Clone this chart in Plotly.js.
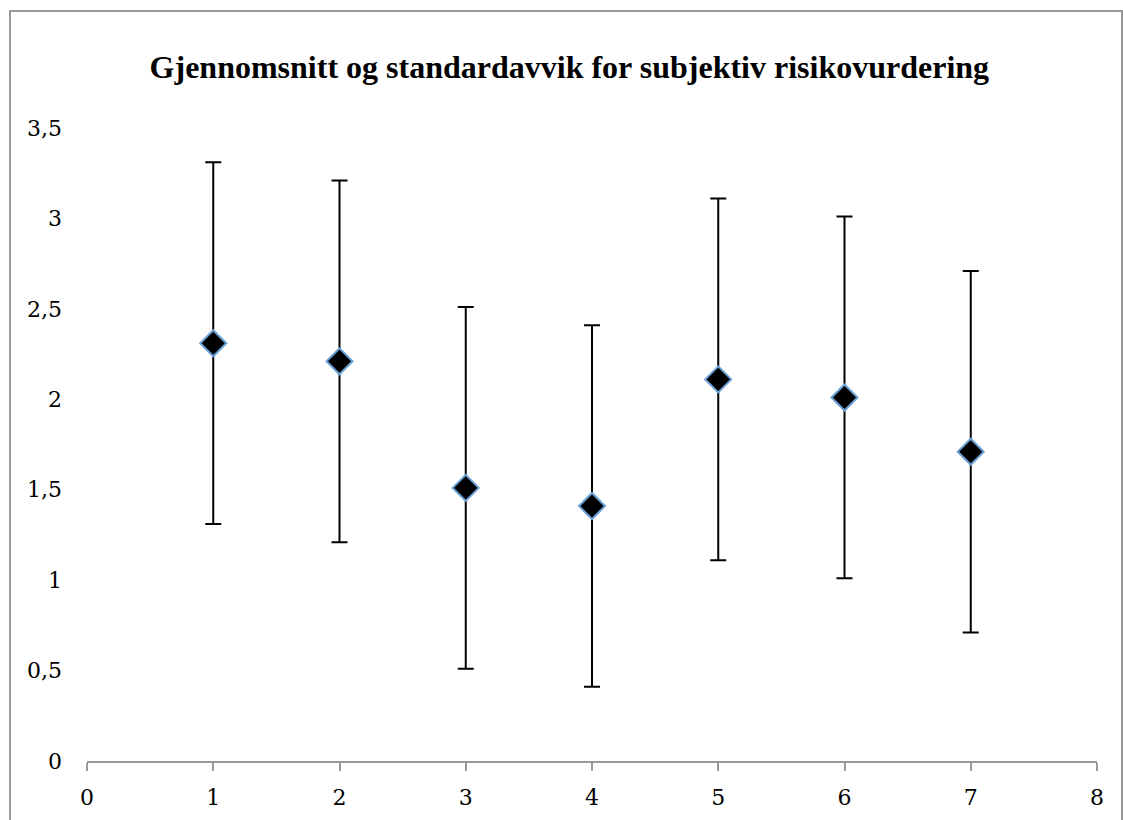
<!DOCTYPE html>
<html>
<head>
<meta charset="utf-8">
<script src="https://cdn.plot.ly/plotly-3.0.1.min.js"></script>
<style>
  html, body { margin: 0; padding: 0; background: #fff; }
  #wrap { position: relative; width: 1123px; height: 820px; }
  #chart { width: 1123px; height: 820px; }
  #frame { position: absolute; left: 9px; top: 10px; width: 1110px; height: 820px;
           border: 2px solid #999; border-bottom: none; pointer-events: none; }
</style>
</head>
<body>
<div id="wrap">
  <div id="chart"></div>
  <div id="frame"></div>
</div>
<script>
const xValues = [1, 2, 3, 4, 5, 6, 7];
const meanValues = [2.31, 2.21, 1.51, 1.41, 2.11, 2.01, 1.71];
const stdValues = [1.0, 1.0, 1.0, 1.0, 1.0, 1.0, 1.0];
const yTickVals = [0, 0.5, 1, 1.5, 2, 2.5, 3, 3.5];
const yTickText = ["0", "0,5", "1", "1,5", "2", "2,5", "3", "3,5"];
const xTickVals = [0, 1, 2, 3, 4, 5, 6, 7, 8];
const titleText = "Gjennomsnitt og standardavvik for subjektiv risikovurdering";

const trace = {
  x: xValues,
  y: meanValues,
  type: "scatter",
  mode: "markers",
  marker: { symbol: "diamond", size: 20, color: "#000000", line: { color: "#6A9FD6", width: 2 } },
  error_y: { type: "data", array: stdValues, visible: true, color: "#000000", thickness: 2, width: 8 },
  hoverinfo: "skip"
};

const layout = {
  width: 1123, height: 820,
  margin: { l: 87, r: 26, t: 128, b: 59 },
  paper_bgcolor: "#ffffff", plot_bgcolor: "#ffffff",
  showlegend: false,
  title: { text: "<b>" + titleText + "</b>", x: 0.507, xanchor: "center", y: 0.918, yanchor: "middle",
           font: { family: "Liberation Serif", size: 32, color: "#000" } },
  xaxis: {
    range: [0, 8], tickvals: xTickVals, ticktext: xTickVals.map(String),
    showgrid: false, zeroline: false, showline: true, linecolor: "#999999", linewidth: 2,
    ticks: "outside", ticklen: 8, tickwidth: 2, tickcolor: "#999999", ticklabelstandoff: 8,
    tickfont: { family: "DejaVu Serif, serif", size: 22, color: "#000" }, fixedrange: true
  },
  yaxis: {
    range: [0, 3.5], tickvals: yTickVals, ticktext: yTickText,
    showgrid: false, zeroline: false, showline: false, ticks: "", ticklabelstandoff: 24,
    tickfont: { family: "DejaVu Serif, serif", size: 22, color: "#000" }, fixedrange: true
  }
};

Plotly.newPlot("chart", [trace], layout, { displayModeBar: false, staticPlot: true });
</script>
</body>
</html>
